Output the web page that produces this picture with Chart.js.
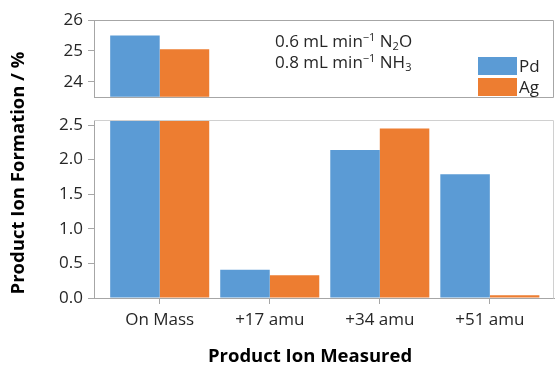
<!DOCTYPE html>
<html><head><meta charset="utf-8">
<script src="https://cdn.jsdelivr.net/npm/chart.js@4/dist/chart.umd.min.js"></script>
<style>
html,body{margin:0;padding:0;background:#fff;}
#wrap{position:relative;width:555px;height:369px;overflow:hidden;}
canvas{position:absolute;left:0;top:0;}
</style></head><body>
<div id="wrap">
<canvas id="lower" width="555" height="369"></canvas>
<canvas id="upper" width="555" height="112"></canvas>
</div>
<script>
// ---- data ----
const categories = ['On Mass', '+17 amu', '+34 amu', '+51 amu'];
const seriesNames = ['Pd', 'Ag'];
const pdValues = [25.5, 0.41, 2.14, 1.79];
const agValues = [25.05, 0.33, 2.45, 0.04];
const upperTickValues = [24, 25, 26];
const lowerTickValues = [0, 0.5, 1.0, 1.5, 2.0, 2.5];
const upperRange = [23.51, 26];
const lowerRange = [0, 2.573];
const xRange = [-0.597, 3.583];
const yTitle = 'Product Ion Formation / %';
const xTitle = 'Product Ion Measured';
const noteLines = [
  [['0.6 mL min', 0], ['\u22121', 1], [' N', 0], ['2', -1], ['O', 0]],
  [['0.8 mL min', 0], ['\u22121', 1], [' NH', 0], ['3', -1]]
];

// ---- styles ----
const colors = ['#5B9BD5', '#ED7D31'];
const axisColor = '#A6A6A6';
const frameColor = '#D0D0D0';
const textColor = '#262626';
const FONT = "'Open Sans', 'Noto Sans', sans-serif";
const PLOT_LEFT = 94;

function makeDatasets() {
  return [pdValues, agValues].map((vals, k) => ({
    label: seriesNames[k],
    data: vals.map((v, i) => ({x: i, y: v})),
    backgroundColor: colors[k],
    borderWidth: 0,
    categoryPercentage: 0.9,
    barPercentage: 1.0,
    clip: 0
  }));
}

function xScale(show) {
  return {
    type: 'linear',
    min: xRange[0], max: xRange[1],
    offset: false,
    display: show,
    afterBuildTicks: s => { s.ticks = categories.map((c, i) => ({value: i})); },
    afterFit: s => { if (show) s.height = 71; },
    border: {display: true, color: axisColor, width: 1},
    grid: {display: true, offset: false, drawOnChartArea: false, drawTicks: true, tickLength: 6, color: axisColor},
    ticks: {
      autoSkip: false, maxRotation: 0, padding: 6,
      color: textColor, font: {family: FONT, size: 17},
      callback: v => categories[v]
    }
  };
}

function yScale(range, tickValues, fmt) {
  return {
    type: 'linear',
    min: range[0], max: range[1],
    afterBuildTicks: s => { s.ticks = tickValues.map(v => ({value: v})); },
    afterFit: s => { s.width = PLOT_LEFT; },
    border: {display: true, color: axisColor, width: 1},
    grid: {display: true, drawOnChartArea: false, drawTicks: true, tickLength: 6, color: axisColor},
    ticks: {
      padding: 5, color: textColor, font: {family: FONT, size: 17},
      callback: v => fmt(v)
    }
  };
}

const framePlugin = {
  id: 'frame',
  afterDatasetsDraw(chart) {
    const a = chart.chartArea, ctx = chart.ctx;
    ctx.save();
    ctx.strokeStyle = frameColor;
    ctx.lineWidth = 1;
    ctx.beginPath();
    ctx.moveTo(a.left, Math.round(a.top) + 0.5);
    ctx.lineTo(Math.round(a.right) - 0.5, Math.round(a.top) + 0.5);
    ctx.lineTo(Math.round(a.right) - 0.5, Math.round(a.bottom) + 0.5);
    if (chart.options.plugins.frame && chart.options.plugins.frame.bottom) {
      ctx.strokeStyle = axisColor;
      ctx.lineTo(a.left, Math.round(a.bottom) + 0.5);
    }
    ctx.stroke();
    ctx.restore();
  }
};

function drawRich(ctx, parts, x, y, size) {
  let cx = x;
  parts.forEach(([t, mode]) => {
    const fs = mode === 0 ? size : Math.round(size * 0.62);
    ctx.font = fs + 'px ' + FONT;
    const dy = mode === 1 ? -size * 0.38 : (mode === -1 ? size * 0.2 : 0);
    ctx.fillText(t, cx, y + dy);
    cx += ctx.measureText(t).width;
  });
}

const notePlugin = {
  id: 'note',
  afterDraw(chart) {
    const ctx = chart.ctx;
    ctx.save();
    ctx.fillStyle = textColor;
    ctx.textBaseline = 'alphabetic';
    ctx.textAlign = 'left';
    noteLines.forEach((line, i) => drawRich(ctx, line, 275, 47 + i * 21, 17));
    const sw = 39, sh = 18;
    chart.data.datasets.forEach((ds, i) => {
      const y0 = 57 + i * 21;
      ctx.fillStyle = ds.backgroundColor;
      ctx.fillRect(478, y0, sw, sh);
      ctx.fillStyle = textColor;
      ctx.font = '17px ' + FONT;
      ctx.textBaseline = 'middle';
      ctx.fillText(ds.label, 519, y0 + sh / 2 + 1);
    });
    ctx.restore();
  }
};

const titlePlugin = {
  id: 'titles',
  afterDraw(chart) {
    const ctx = chart.ctx;
    ctx.save();
    ctx.fillStyle = '#000';
    ctx.font = 'bold 18.5px ' + FONT;
    ctx.textAlign = 'center';
    ctx.textBaseline = 'middle';
    ctx.fillText(xTitle, 310, 357);
    ctx.translate(19, 173);
    ctx.rotate(-Math.PI / 2);
    ctx.fillText(yTitle, 0, 0);
    ctx.restore();
  }
};

const common = {
  responsive: false,
  animation: false,
  devicePixelRatio: 1
};

new Chart(document.getElementById('lower'), {
  type: 'bar',
  data: {datasets: makeDatasets()},
  options: Object.assign({}, common, {
    layout: {padding: {top: 120, right: 1, left: 0, bottom: 0}},
    scales: {
      x: xScale(true),
      y: yScale(lowerRange, lowerTickValues, v => v.toFixed(1))
    },
    plugins: {legend: {display: false}, tooltip: {enabled: false}, frame: {bottom: false}}
  }),
  plugins: [framePlugin, titlePlugin]
});

new Chart(document.getElementById('upper'), {
  type: 'bar',
  data: {datasets: makeDatasets()},
  options: Object.assign({}, common, {
    layout: {padding: {top: 20, right: 1, left: 0, bottom: 3}},
    scales: {
      x: xScale(false),
      y: yScale(upperRange, upperTickValues, v => String(v))
    },
    plugins: {legend: {display: false}, tooltip: {enabled: false}, frame: {bottom: true}}
  }),
  plugins: [framePlugin, notePlugin]
});
</script>
</body></html>
